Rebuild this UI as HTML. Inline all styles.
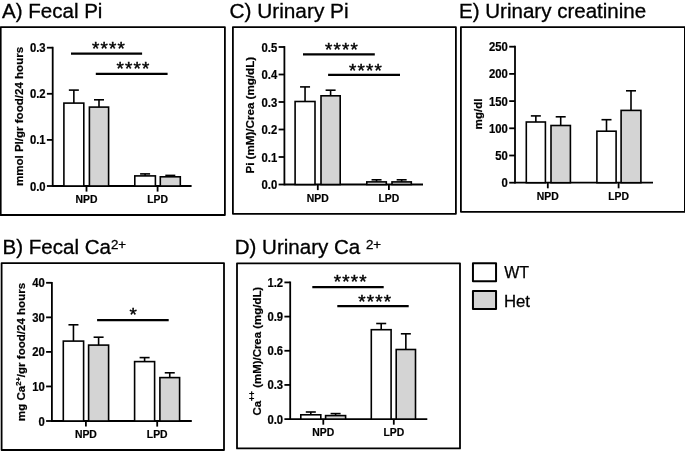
<!DOCTYPE html>
<html><head><meta charset="utf-8"><title>Figure</title>
<style>
html,body{margin:0;padding:0;background:#fff;}
body{width:685px;height:451px;overflow:hidden;}
svg{display:block;font-family:"Liberation Sans",Arial,sans-serif;fill:#000;}
</style></head><body>
<svg width="685" height="451" viewBox="0 0 685 451">
<rect x="0" y="0" width="685" height="451" fill="#fff"/>
<rect x="0.7" y="27.05" width="224.20" height="187.95" fill="none" stroke="#000" stroke-width="1.8" stroke-linejoin="round"/>
<line x1="52.70" y1="46.80" x2="52.70" y2="186.90" stroke="#000" stroke-width="1.8" stroke-linecap="butt"/>
<line x1="52.70" y1="186.00" x2="191.60" y2="186.00" stroke="#000" stroke-width="1.8" stroke-linecap="butt"/>
<line x1="46.90" y1="186.00" x2="52.70" y2="186.00" stroke="#000" stroke-width="1.8" stroke-linecap="butt"/>
<text transform="translate(45.60,190.55) scale(0.95,1)" font-size="11.9" font-weight="bold" text-anchor="end" stroke="#000" stroke-width="0.2">0.0</text>
<line x1="46.90" y1="139.90" x2="52.70" y2="139.90" stroke="#000" stroke-width="1.8" stroke-linecap="butt"/>
<text transform="translate(45.60,144.45) scale(0.95,1)" font-size="11.9" font-weight="bold" text-anchor="end" stroke="#000" stroke-width="0.2">0.1</text>
<line x1="46.90" y1="93.80" x2="52.70" y2="93.80" stroke="#000" stroke-width="1.8" stroke-linecap="butt"/>
<text transform="translate(45.60,98.35) scale(0.95,1)" font-size="11.9" font-weight="bold" text-anchor="end" stroke="#000" stroke-width="0.2">0.2</text>
<line x1="46.90" y1="47.70" x2="52.70" y2="47.70" stroke="#000" stroke-width="1.8" stroke-linecap="butt"/>
<text transform="translate(45.60,52.25) scale(0.95,1)" font-size="11.9" font-weight="bold" text-anchor="end" stroke="#000" stroke-width="0.2">0.3</text>
<line x1="86.50" y1="186.00" x2="86.50" y2="191.60" stroke="#000" stroke-width="1.8" stroke-linecap="butt"/>
<text x="86.50" y="203.10" font-size="10.4" font-weight="bold" text-anchor="middle" stroke="#000" stroke-width="0.2">NPD</text>
<line x1="157.60" y1="186.00" x2="157.60" y2="191.60" stroke="#000" stroke-width="1.8" stroke-linecap="butt"/>
<text x="157.60" y="203.10" font-size="10.4" font-weight="bold" text-anchor="middle" stroke="#000" stroke-width="0.2">LPD</text>
<line x1="73.85" y1="90.10" x2="73.85" y2="103.10" stroke="#000" stroke-width="1.6" stroke-linecap="butt"/>
<line x1="68.85" y1="90.10" x2="78.85" y2="90.10" stroke="#000" stroke-width="1.6" stroke-linecap="butt"/>
<rect x="63.90" y="103.10" width="19.90" height="82.90" fill="#fff" stroke="#000" stroke-width="1.6"/>
<line x1="99.00" y1="99.80" x2="99.00" y2="107.10" stroke="#000" stroke-width="1.6" stroke-linecap="butt"/>
<line x1="94.00" y1="99.80" x2="104.00" y2="99.80" stroke="#000" stroke-width="1.6" stroke-linecap="butt"/>
<rect x="89.40" y="107.10" width="19.20" height="78.90" fill="#d4d4d4" stroke="#000" stroke-width="1.6"/>
<line x1="145.10" y1="173.90" x2="145.10" y2="175.90" stroke="#000" stroke-width="1.6" stroke-linecap="butt"/>
<line x1="140.10" y1="173.90" x2="150.10" y2="173.90" stroke="#000" stroke-width="1.6" stroke-linecap="butt"/>
<rect x="134.80" y="175.90" width="20.60" height="10.10" fill="#fff" stroke="#000" stroke-width="1.6"/>
<line x1="170.30" y1="175.40" x2="170.30" y2="176.80" stroke="#000" stroke-width="1.6" stroke-linecap="butt"/>
<line x1="165.30" y1="175.40" x2="175.30" y2="175.40" stroke="#000" stroke-width="1.6" stroke-linecap="butt"/>
<rect x="160.30" y="176.80" width="20.00" height="9.20" fill="#d4d4d4" stroke="#000" stroke-width="1.6"/>
<line x1="71.00" y1="53.70" x2="142.10" y2="53.70" stroke="#000" stroke-width="2.25" stroke-linecap="butt"/>
<line x1="95.80" y1="73.90" x2="167.60" y2="73.90" stroke="#000" stroke-width="2.25" stroke-linecap="butt"/>
<text x="109.00" y="55.30" font-size="18.8" font-weight="normal" text-anchor="middle" letter-spacing="1.2" stroke="#000" stroke-width="0.45">****</text>
<text x="133.60" y="75.30" font-size="18.8" font-weight="normal" text-anchor="middle" letter-spacing="1.2" stroke="#000" stroke-width="0.45">****</text>
<text transform="translate(22.50,116.50) rotate(-90)" font-size="11.55" font-weight="bold" text-anchor="middle" stroke="#000" stroke-width="0.2">mmol PI/gr food/24 hours</text>
<text transform="translate(2.00,18.20) scale(1.065,1)" font-size="19.3" stroke="#000" stroke-width="0.3">A) Fecal Pi</text>
<rect x="232.9" y="27.05" width="223.00" height="186.75" fill="none" stroke="#000" stroke-width="1.8" stroke-linejoin="round"/>
<line x1="284.40" y1="46.10" x2="284.40" y2="185.40" stroke="#000" stroke-width="1.8" stroke-linecap="butt"/>
<line x1="284.40" y1="184.50" x2="423.00" y2="184.50" stroke="#000" stroke-width="1.8" stroke-linecap="butt"/>
<line x1="278.60" y1="184.50" x2="284.40" y2="184.50" stroke="#000" stroke-width="1.8" stroke-linecap="butt"/>
<text transform="translate(277.30,189.05) scale(0.95,1)" font-size="11.9" font-weight="bold" text-anchor="end" stroke="#000" stroke-width="0.2">0.0</text>
<line x1="278.60" y1="157.00" x2="284.40" y2="157.00" stroke="#000" stroke-width="1.8" stroke-linecap="butt"/>
<text transform="translate(277.30,161.55) scale(0.95,1)" font-size="11.9" font-weight="bold" text-anchor="end" stroke="#000" stroke-width="0.2">0.1</text>
<line x1="278.60" y1="129.50" x2="284.40" y2="129.50" stroke="#000" stroke-width="1.8" stroke-linecap="butt"/>
<text transform="translate(277.30,134.05) scale(0.95,1)" font-size="11.9" font-weight="bold" text-anchor="end" stroke="#000" stroke-width="0.2">0.2</text>
<line x1="278.60" y1="102.00" x2="284.40" y2="102.00" stroke="#000" stroke-width="1.8" stroke-linecap="butt"/>
<text transform="translate(277.30,106.55) scale(0.95,1)" font-size="11.9" font-weight="bold" text-anchor="end" stroke="#000" stroke-width="0.2">0.3</text>
<line x1="278.60" y1="74.50" x2="284.40" y2="74.50" stroke="#000" stroke-width="1.8" stroke-linecap="butt"/>
<text transform="translate(277.30,79.05) scale(0.95,1)" font-size="11.9" font-weight="bold" text-anchor="end" stroke="#000" stroke-width="0.2">0.4</text>
<line x1="278.60" y1="47.00" x2="284.40" y2="47.00" stroke="#000" stroke-width="1.8" stroke-linecap="butt"/>
<text transform="translate(277.30,51.55) scale(0.95,1)" font-size="11.9" font-weight="bold" text-anchor="end" stroke="#000" stroke-width="0.2">0.5</text>
<line x1="317.80" y1="184.50" x2="317.80" y2="190.10" stroke="#000" stroke-width="1.8" stroke-linecap="butt"/>
<text x="317.80" y="201.80" font-size="10.4" font-weight="bold" text-anchor="middle" stroke="#000" stroke-width="0.2">NPD</text>
<line x1="388.90" y1="184.50" x2="388.90" y2="190.10" stroke="#000" stroke-width="1.8" stroke-linecap="butt"/>
<text x="388.90" y="201.80" font-size="10.4" font-weight="bold" text-anchor="middle" stroke="#000" stroke-width="0.2">LPD</text>
<line x1="305.05" y1="86.90" x2="305.05" y2="101.50" stroke="#000" stroke-width="1.6" stroke-linecap="butt"/>
<line x1="300.05" y1="86.90" x2="310.05" y2="86.90" stroke="#000" stroke-width="1.6" stroke-linecap="butt"/>
<rect x="295.10" y="101.50" width="19.90" height="83.00" fill="#fff" stroke="#000" stroke-width="1.6"/>
<line x1="330.60" y1="90.20" x2="330.60" y2="95.80" stroke="#000" stroke-width="1.6" stroke-linecap="butt"/>
<line x1="325.60" y1="90.20" x2="335.60" y2="90.20" stroke="#000" stroke-width="1.6" stroke-linecap="butt"/>
<rect x="321.00" y="95.80" width="19.20" height="88.70" fill="#d4d4d4" stroke="#000" stroke-width="1.6"/>
<line x1="376.55" y1="179.80" x2="376.55" y2="181.90" stroke="#000" stroke-width="1.6" stroke-linecap="butt"/>
<line x1="371.55" y1="179.80" x2="381.55" y2="179.80" stroke="#000" stroke-width="1.6" stroke-linecap="butt"/>
<rect x="366.80" y="181.90" width="19.50" height="2.60" fill="#fff" stroke="#000" stroke-width="1.6"/>
<line x1="401.65" y1="179.80" x2="401.65" y2="181.90" stroke="#000" stroke-width="1.6" stroke-linecap="butt"/>
<line x1="396.65" y1="179.80" x2="406.65" y2="179.80" stroke="#000" stroke-width="1.6" stroke-linecap="butt"/>
<rect x="392.00" y="181.90" width="19.30" height="2.60" fill="#d4d4d4" stroke="#000" stroke-width="1.6"/>
<line x1="303.00" y1="54.40" x2="374.80" y2="54.40" stroke="#000" stroke-width="2.25" stroke-linecap="butt"/>
<line x1="328.10" y1="74.90" x2="400.00" y2="74.90" stroke="#000" stroke-width="2.25" stroke-linecap="butt"/>
<text x="342.10" y="55.80" font-size="18.8" font-weight="normal" text-anchor="middle" letter-spacing="1.2" stroke="#000" stroke-width="0.45">****</text>
<text x="366.00" y="76.80" font-size="18.8" font-weight="normal" text-anchor="middle" letter-spacing="1.2" stroke="#000" stroke-width="0.45">****</text>
<text transform="translate(253.90,115.20) rotate(-90)" font-size="11.62" font-weight="bold" text-anchor="middle" stroke="#000" stroke-width="0.2">Pi (mM)/Crea (mg/dL)</text>
<text transform="translate(229.40,18.20) scale(1.08,1)" font-size="19.3" stroke="#000" stroke-width="0.3">C) Urinary Pi</text>
<rect x="460.9" y="27.05" width="224.00" height="184.75" fill="none" stroke="#000" stroke-width="1.8" stroke-linejoin="round"/>
<line x1="515.00" y1="45.80" x2="515.00" y2="183.60" stroke="#000" stroke-width="1.8" stroke-linecap="butt"/>
<line x1="515.00" y1="182.70" x2="653.00" y2="182.70" stroke="#000" stroke-width="1.8" stroke-linecap="butt"/>
<line x1="509.20" y1="182.70" x2="515.00" y2="182.70" stroke="#000" stroke-width="1.8" stroke-linecap="butt"/>
<text transform="translate(507.90,187.25) scale(0.95,1)" font-size="11.9" font-weight="bold" text-anchor="end" stroke="#000" stroke-width="0.2">0</text>
<line x1="509.20" y1="155.50" x2="515.00" y2="155.50" stroke="#000" stroke-width="1.8" stroke-linecap="butt"/>
<text transform="translate(507.90,160.05) scale(0.95,1)" font-size="11.9" font-weight="bold" text-anchor="end" stroke="#000" stroke-width="0.2">50</text>
<line x1="509.20" y1="128.30" x2="515.00" y2="128.30" stroke="#000" stroke-width="1.8" stroke-linecap="butt"/>
<text transform="translate(507.90,132.85) scale(0.95,1)" font-size="11.9" font-weight="bold" text-anchor="end" stroke="#000" stroke-width="0.2">100</text>
<line x1="509.20" y1="101.10" x2="515.00" y2="101.10" stroke="#000" stroke-width="1.8" stroke-linecap="butt"/>
<text transform="translate(507.90,105.65) scale(0.95,1)" font-size="11.9" font-weight="bold" text-anchor="end" stroke="#000" stroke-width="0.2">150</text>
<line x1="509.20" y1="73.90" x2="515.00" y2="73.90" stroke="#000" stroke-width="1.8" stroke-linecap="butt"/>
<text transform="translate(507.90,78.45) scale(0.95,1)" font-size="11.9" font-weight="bold" text-anchor="end" stroke="#000" stroke-width="0.2">200</text>
<line x1="509.20" y1="46.70" x2="515.00" y2="46.70" stroke="#000" stroke-width="1.8" stroke-linecap="butt"/>
<text transform="translate(507.90,51.25) scale(0.95,1)" font-size="11.9" font-weight="bold" text-anchor="end" stroke="#000" stroke-width="0.2">250</text>
<line x1="547.80" y1="182.70" x2="547.80" y2="188.30" stroke="#000" stroke-width="1.8" stroke-linecap="butt"/>
<text x="547.80" y="200.10" font-size="10.4" font-weight="bold" text-anchor="middle" stroke="#000" stroke-width="0.2">NPD</text>
<line x1="618.60" y1="182.70" x2="618.60" y2="188.30" stroke="#000" stroke-width="1.8" stroke-linecap="butt"/>
<text x="618.60" y="200.10" font-size="10.4" font-weight="bold" text-anchor="middle" stroke="#000" stroke-width="0.2">LPD</text>
<line x1="535.85" y1="115.90" x2="535.85" y2="122.00" stroke="#000" stroke-width="1.6" stroke-linecap="butt"/>
<line x1="530.85" y1="115.90" x2="540.85" y2="115.90" stroke="#000" stroke-width="1.6" stroke-linecap="butt"/>
<rect x="526.30" y="122.00" width="19.10" height="60.70" fill="#fff" stroke="#000" stroke-width="1.6"/>
<line x1="560.70" y1="116.80" x2="560.70" y2="125.50" stroke="#000" stroke-width="1.6" stroke-linecap="butt"/>
<line x1="555.70" y1="116.80" x2="565.70" y2="116.80" stroke="#000" stroke-width="1.6" stroke-linecap="butt"/>
<rect x="551.00" y="125.50" width="19.40" height="57.20" fill="#d4d4d4" stroke="#000" stroke-width="1.6"/>
<line x1="606.50" y1="119.70" x2="606.50" y2="131.20" stroke="#000" stroke-width="1.6" stroke-linecap="butt"/>
<line x1="601.50" y1="119.70" x2="611.50" y2="119.70" stroke="#000" stroke-width="1.6" stroke-linecap="butt"/>
<rect x="596.90" y="131.20" width="19.20" height="51.50" fill="#fff" stroke="#000" stroke-width="1.6"/>
<line x1="631.00" y1="90.80" x2="631.00" y2="110.40" stroke="#000" stroke-width="1.6" stroke-linecap="butt"/>
<line x1="626.00" y1="90.80" x2="636.00" y2="90.80" stroke="#000" stroke-width="1.6" stroke-linecap="butt"/>
<rect x="621.10" y="110.40" width="19.80" height="72.30" fill="#d4d4d4" stroke="#000" stroke-width="1.6"/>
<text transform="translate(481.50,114.00) rotate(-90)" font-size="11.55" font-weight="bold" text-anchor="middle" stroke="#000" stroke-width="0.2">mg/dl</text>
<text transform="translate(459.00,18.20) scale(1.065,1)" font-size="19.3" stroke="#000" stroke-width="0.3">E) Urinary creatinine</text>
<rect x="1.6" y="263.05" width="222.40" height="186.95" fill="none" stroke="#000" stroke-width="1.8" stroke-linejoin="round"/>
<line x1="51.90" y1="281.90" x2="51.90" y2="421.90" stroke="#000" stroke-width="1.8" stroke-linecap="butt"/>
<line x1="51.90" y1="421.00" x2="191.80" y2="421.00" stroke="#000" stroke-width="1.8" stroke-linecap="butt"/>
<line x1="46.10" y1="421.00" x2="51.90" y2="421.00" stroke="#000" stroke-width="1.8" stroke-linecap="butt"/>
<text transform="translate(44.80,425.55) scale(0.95,1)" font-size="11.9" font-weight="bold" text-anchor="end" stroke="#000" stroke-width="0.2">0</text>
<line x1="46.10" y1="386.45" x2="51.90" y2="386.45" stroke="#000" stroke-width="1.8" stroke-linecap="butt"/>
<text transform="translate(44.80,391.00) scale(0.95,1)" font-size="11.9" font-weight="bold" text-anchor="end" stroke="#000" stroke-width="0.2">10</text>
<line x1="46.10" y1="351.90" x2="51.90" y2="351.90" stroke="#000" stroke-width="1.8" stroke-linecap="butt"/>
<text transform="translate(44.80,356.45) scale(0.95,1)" font-size="11.9" font-weight="bold" text-anchor="end" stroke="#000" stroke-width="0.2">20</text>
<line x1="46.10" y1="317.35" x2="51.90" y2="317.35" stroke="#000" stroke-width="1.8" stroke-linecap="butt"/>
<text transform="translate(44.80,321.90) scale(0.95,1)" font-size="11.9" font-weight="bold" text-anchor="end" stroke="#000" stroke-width="0.2">30</text>
<line x1="46.10" y1="282.80" x2="51.90" y2="282.80" stroke="#000" stroke-width="1.8" stroke-linecap="butt"/>
<text transform="translate(44.80,287.35) scale(0.95,1)" font-size="11.9" font-weight="bold" text-anchor="end" stroke="#000" stroke-width="0.2">40</text>
<line x1="85.90" y1="421.00" x2="85.90" y2="426.60" stroke="#000" stroke-width="1.8" stroke-linecap="butt"/>
<text x="85.90" y="437.60" font-size="10.4" font-weight="bold" text-anchor="middle" stroke="#000" stroke-width="0.2">NPD</text>
<line x1="157.20" y1="421.00" x2="157.20" y2="426.60" stroke="#000" stroke-width="1.8" stroke-linecap="butt"/>
<text x="157.20" y="437.60" font-size="10.4" font-weight="bold" text-anchor="middle" stroke="#000" stroke-width="0.2">LPD</text>
<line x1="73.45" y1="324.80" x2="73.45" y2="341.10" stroke="#000" stroke-width="1.6" stroke-linecap="butt"/>
<line x1="68.45" y1="324.80" x2="78.45" y2="324.80" stroke="#000" stroke-width="1.6" stroke-linecap="butt"/>
<rect x="63.30" y="341.10" width="20.30" height="79.90" fill="#fff" stroke="#000" stroke-width="1.6"/>
<line x1="98.60" y1="337.20" x2="98.60" y2="345.10" stroke="#000" stroke-width="1.6" stroke-linecap="butt"/>
<line x1="93.60" y1="337.20" x2="103.60" y2="337.20" stroke="#000" stroke-width="1.6" stroke-linecap="butt"/>
<rect x="88.60" y="345.10" width="20.00" height="75.90" fill="#d4d4d4" stroke="#000" stroke-width="1.6"/>
<line x1="144.60" y1="357.60" x2="144.60" y2="361.60" stroke="#000" stroke-width="1.6" stroke-linecap="butt"/>
<line x1="139.60" y1="357.60" x2="149.60" y2="357.60" stroke="#000" stroke-width="1.6" stroke-linecap="butt"/>
<rect x="134.60" y="361.60" width="20.00" height="59.40" fill="#fff" stroke="#000" stroke-width="1.6"/>
<line x1="169.75" y1="372.80" x2="169.75" y2="377.60" stroke="#000" stroke-width="1.6" stroke-linecap="butt"/>
<line x1="164.75" y1="372.80" x2="174.75" y2="372.80" stroke="#000" stroke-width="1.6" stroke-linecap="butt"/>
<rect x="159.90" y="377.60" width="19.70" height="43.40" fill="#d4d4d4" stroke="#000" stroke-width="1.6"/>
<line x1="97.10" y1="320.20" x2="168.70" y2="320.20" stroke="#000" stroke-width="2.25" stroke-linecap="butt"/>
<text x="133.80" y="321.30" font-size="18.8" font-weight="normal" text-anchor="middle" letter-spacing="1.2" stroke="#000" stroke-width="0.45">*</text>
<text transform="translate(25.40,352.00) rotate(-90)" font-size="11.55" font-weight="bold" text-anchor="middle" stroke="#000" stroke-width="0.2">mg Ca<tspan font-size="7.6" dy="-4.6">2+</tspan><tspan dy="4.6">/gr food/24 hours</tspan></text>
<text transform="translate(2.50,253.50) scale(1.065,1)" font-size="19.3" stroke="#000" stroke-width="0.3">B) Fecal Ca<tspan font-size="12.5" dy="-4.8">2+</tspan></text>
<rect x="237" y="263.35" width="223.00" height="185.05" fill="none" stroke="#000" stroke-width="1.8" stroke-linejoin="round"/>
<line x1="290.20" y1="281.52" x2="290.20" y2="420.00" stroke="#000" stroke-width="1.8" stroke-linecap="butt"/>
<line x1="290.20" y1="419.10" x2="427.30" y2="419.10" stroke="#000" stroke-width="1.8" stroke-linecap="butt"/>
<line x1="284.40" y1="419.10" x2="290.20" y2="419.10" stroke="#000" stroke-width="1.8" stroke-linecap="butt"/>
<text transform="translate(283.10,423.65) scale(0.95,1)" font-size="11.9" font-weight="bold" text-anchor="end" stroke="#000" stroke-width="0.2">0.0</text>
<line x1="284.40" y1="384.93" x2="290.20" y2="384.93" stroke="#000" stroke-width="1.8" stroke-linecap="butt"/>
<text transform="translate(283.10,389.48) scale(0.95,1)" font-size="11.9" font-weight="bold" text-anchor="end" stroke="#000" stroke-width="0.2">0.3</text>
<line x1="284.40" y1="350.76" x2="290.20" y2="350.76" stroke="#000" stroke-width="1.8" stroke-linecap="butt"/>
<text transform="translate(283.10,355.31) scale(0.95,1)" font-size="11.9" font-weight="bold" text-anchor="end" stroke="#000" stroke-width="0.2">0.6</text>
<line x1="284.40" y1="316.59" x2="290.20" y2="316.59" stroke="#000" stroke-width="1.8" stroke-linecap="butt"/>
<text transform="translate(283.10,321.14) scale(0.95,1)" font-size="11.9" font-weight="bold" text-anchor="end" stroke="#000" stroke-width="0.2">0.9</text>
<line x1="284.40" y1="282.42" x2="290.20" y2="282.42" stroke="#000" stroke-width="1.8" stroke-linecap="butt"/>
<text transform="translate(283.10,286.97) scale(0.95,1)" font-size="11.9" font-weight="bold" text-anchor="end" stroke="#000" stroke-width="0.2">1.2</text>
<line x1="323.30" y1="419.10" x2="323.30" y2="424.70" stroke="#000" stroke-width="1.8" stroke-linecap="butt"/>
<text x="323.30" y="435.60" font-size="10.4" font-weight="bold" text-anchor="middle" stroke="#000" stroke-width="0.2">NPD</text>
<line x1="393.80" y1="419.10" x2="393.80" y2="424.70" stroke="#000" stroke-width="1.8" stroke-linecap="butt"/>
<text x="393.80" y="435.60" font-size="10.4" font-weight="bold" text-anchor="middle" stroke="#000" stroke-width="0.2">LPD</text>
<line x1="310.80" y1="412.00" x2="310.80" y2="414.80" stroke="#000" stroke-width="1.6" stroke-linecap="butt"/>
<line x1="305.80" y1="412.00" x2="315.80" y2="412.00" stroke="#000" stroke-width="1.6" stroke-linecap="butt"/>
<rect x="300.80" y="414.80" width="20.00" height="4.30" fill="#fff" stroke="#000" stroke-width="1.6"/>
<line x1="335.60" y1="413.60" x2="335.60" y2="415.60" stroke="#000" stroke-width="1.6" stroke-linecap="butt"/>
<line x1="330.60" y1="413.60" x2="340.60" y2="413.60" stroke="#000" stroke-width="1.6" stroke-linecap="butt"/>
<rect x="325.60" y="415.60" width="20.00" height="3.50" fill="#d4d4d4" stroke="#000" stroke-width="1.6"/>
<line x1="381.20" y1="323.50" x2="381.20" y2="329.70" stroke="#000" stroke-width="1.6" stroke-linecap="butt"/>
<line x1="376.20" y1="323.50" x2="386.20" y2="323.50" stroke="#000" stroke-width="1.6" stroke-linecap="butt"/>
<rect x="371.30" y="329.70" width="19.80" height="89.40" fill="#fff" stroke="#000" stroke-width="1.6"/>
<line x1="405.85" y1="333.80" x2="405.85" y2="349.50" stroke="#000" stroke-width="1.6" stroke-linecap="butt"/>
<line x1="400.85" y1="333.80" x2="410.85" y2="333.80" stroke="#000" stroke-width="1.6" stroke-linecap="butt"/>
<rect x="396.20" y="349.50" width="19.30" height="69.60" fill="#d4d4d4" stroke="#000" stroke-width="1.6"/>
<line x1="312.30" y1="287.00" x2="383.70" y2="287.00" stroke="#000" stroke-width="2.25" stroke-linecap="butt"/>
<line x1="337.30" y1="306.20" x2="408.70" y2="306.20" stroke="#000" stroke-width="2.25" stroke-linecap="butt"/>
<text x="350.70" y="288.30" font-size="18.8" font-weight="normal" text-anchor="middle" letter-spacing="1.2" stroke="#000" stroke-width="0.45">****</text>
<text x="375.30" y="307.80" font-size="18.8" font-weight="normal" text-anchor="middle" letter-spacing="1.2" stroke="#000" stroke-width="0.45">****</text>
<text transform="translate(260.60,351.20) rotate(-90)" font-size="11.45" font-weight="bold" text-anchor="middle" stroke="#000" stroke-width="0.2">Ca<tspan font-size="8.5" dy="-6">++</tspan><tspan dy="6"> (mM)/Crea (mg/dL)</tspan></text>
<text transform="translate(234.70,253.50) scale(1.065,1)" font-size="19.3" stroke="#000" stroke-width="0.3">D) Urinary Ca <tspan font-size="12.5" dy="-4.8">2+</tspan></text>
<rect x="472.95" y="263.3" width="23.1" height="18" fill="#fff" stroke="#000" stroke-width="2" stroke-linejoin="round"/>
<rect x="472.95" y="290.9" width="23.1" height="18" fill="#d4d4d4" stroke="#000" stroke-width="2" stroke-linejoin="round"/>
<text x="504.20" y="278.20" font-size="16" font-weight="normal" text-anchor="start" stroke="#000" stroke-width="0.25">WT</text>
<text transform="translate(503.90,307.30) scale(1.05,1)" font-size="16" font-weight="normal" text-anchor="start" stroke="#000" stroke-width="0.25">Het</text>
</svg>
</body></html>
